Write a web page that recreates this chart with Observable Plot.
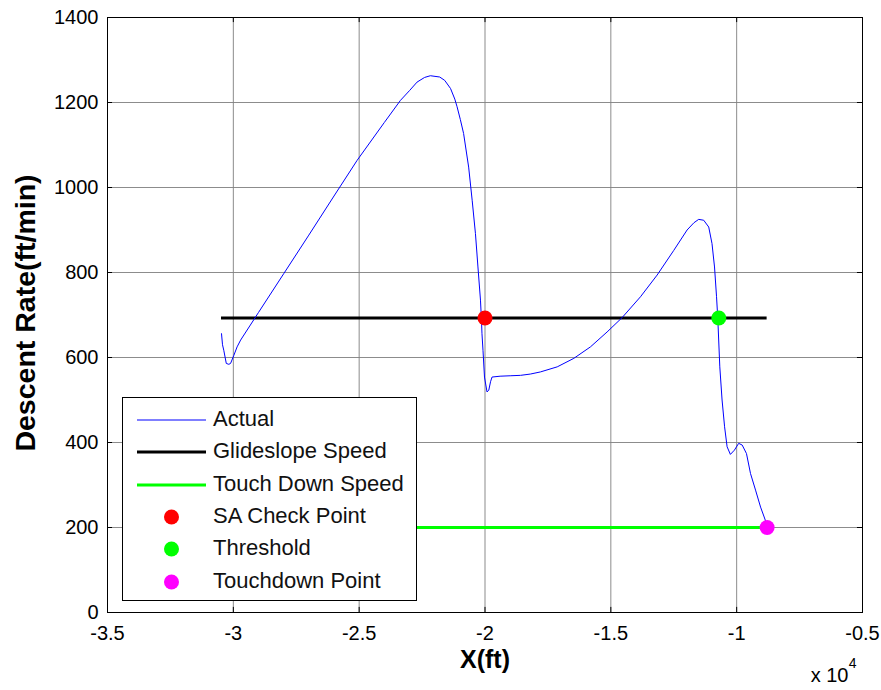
<!DOCTYPE html>
<html>
<head>
<meta charset="utf-8">
<script src="https://cdn.jsdelivr.net/npm/d3@7"></script>
<script src="https://cdn.jsdelivr.net/npm/@observablehq/plot@0.6"></script>
<style>
  html, body { margin: 0; padding: 0; background: #fff; }
  #wrap { position: relative; width: 881px; height: 690px; font-family: "Liberation Sans", Arial, sans-serif; }
  #legend { position: absolute; left: 122px; top: 397px; width: 293px; height: 202px; border: 1px solid #000; background: #fff; }
  .row { position: absolute; left: 0; height: 32px; width: 100%; font-size: 22px; color: #111; }
  .row span { position: absolute; left: 90px; top: 50%; transform: translateY(-52%); white-space: nowrap; }
  .sw { position: absolute; left: 14px; width: 69px; top: 50%; }
  .dot { position: absolute; left: 41px; top: 50%; width: 15px; height: 15px; border-radius: 50%; transform: translateY(-50%); }
</style>
</head>
<body>
<div id="wrap"><div id="chart"></div><div id="legend"></div></div>
<script>
// Actual descent rate trace, x in units of 1e4 ft
const actualX = [-3.047, -3.043, -3.038, -3.028, -3.018, -3.011, -2.998, -2.985, -2.971,
  -2.90, -2.80, -2.70, -2.60, -2.508, -2.40, -2.336, -2.300, -2.270, -2.240, -2.217,
  -2.180, -2.160, -2.137, -2.120, -2.111, -2.098, -2.085, -2.065, -2.051, -2.038,
  -2.028, -2.018, -2.014, -2.012, -2.008, -2.002, -1.992, -1.985, -1.978, -1.972,
  -1.940, -1.900, -1.859, -1.820, -1.780, -1.713, -1.647, -1.581, -1.515, -1.455,
  -1.382, -1.316, -1.250, -1.197, -1.170, -1.151, -1.131, -1.111, -1.098, -1.088,
  -1.080, -1.075, -1.067, -1.058, -1.048, -1.038, -1.025, -1.009, -0.992, -0.978,
  -0.961, -0.945, -0.925, -0.905, -0.886, -0.879];
const actualY = [656, 630, 617, 586, 584, 586, 605, 625, 641,
  706, 797, 888, 980, 1064, 1153, 1205, 1228, 1248, 1259, 1263,
  1260, 1252, 1233, 1208, 1190, 1160, 1127, 1048, 970, 892,
  813, 735, 688, 656, 617, 554, 519, 523, 543, 554,
  556, 557, 558, 561, 566, 578, 598, 625, 660, 694,
  743, 794, 852, 900, 917, 925, 923, 907, 868, 813,
  743, 692, 578, 500, 437, 390, 372, 382, 398, 394,
  374, 327, 288, 248, 217, 200];

const lineNames = ["Glideslope Speed", "Touch Down Speed"];
const lineValues = [693, 200];
const lineStart = [-3.047, -3.047];
const lineEnd = [-0.879, -0.879];
const lineColors = ["#000000", "#00ff00"];

const pointNames = ["SA Check Point", "Threshold", "Touchdown Point"];
const pointX = [-2.000, -1.071, -0.879];
const pointY = [693, 693, 200];
const pointColors = ["#ff0000", "#00ff00", "#ff00ff"];

const xTicks = [-3.5, -3, -2.5, -2, -1.5, -1, -0.5];
const yTicks = [0, 200, 400, 600, 800, 1000, 1200, 1400];

const actual = actualX.map((x, i) => ({x, y: actualY[i]}));
const refLines = lineNames.map((name, i) => ({name, y: lineValues[i], x1: lineStart[i], x2: lineEnd[i], color: lineColors[i]}));
const points = pointNames.map((name, i) => ({name, x: pointX[i], y: pointY[i], color: pointColors[i]}));

const font = '"Liberation Sans", Arial, sans-serif';
const yTickLen = 0.02;   // in x units (~5px)
const xTickLen = 12;     // in y units (~5px)

const chart = Plot.plot({
  width: 881,
  height: 690,
  marginLeft: 107,
  marginRight: 19,
  marginTop: 17,
  marginBottom: 78,
  style: {fontFamily: font, fontSize: "20px", color: "#000", background: "#fff"},
  x: {domain: [-3.5, -0.5], ticks: xTicks},
  y: {domain: [0, 1400], ticks: yTicks},
  marks: [
    Plot.gridX(xTicks, {stroke: "#808080", strokeOpacity: 0.9, strokeWidth: 1}),
    Plot.gridY(yTicks, {stroke: "#808080", strokeOpacity: 0.9, strokeWidth: 1}),
    Plot.ruleX(xTicks, {x: d => d, y1: 0, y2: xTickLen, stroke: "#000"}),
    Plot.ruleX(xTicks, {x: d => d, y1: 1400 - xTickLen, y2: 1400, stroke: "#000"}),
    Plot.ruleY(yTicks, {y: d => d, x1: -3.5, x2: -3.5 + yTickLen, stroke: "#000"}),
    Plot.ruleY(yTicks, {y: d => d, x1: -0.5 - yTickLen, x2: -0.5, stroke: "#000"}),
    Plot.axisX(xTicks, {tickSize: 0, tickPadding: 13, tickFormat: d => String(d), fontSize: 20, label: null}),
    Plot.axisY(yTicks, {tickSize: 0, tickPadding: 9, tickFormat: d => String(d), fontSize: 20, label: null}),
    Plot.frame({stroke: "#000", strokeWidth: 1}),
    Plot.ruleY(refLines, {y: "y", x1: "x1", x2: "x2", stroke: "color", strokeWidth: 3}),
    Plot.line(actual, {x: "x", y: "y", stroke: "#0000ff", strokeWidth: 1, curve: "linear"}),
    Plot.dot(points, {x: "x", y: "y", fill: "color", r: 7.5, stroke: null}),
    Plot.text(["Descent Rate(ft/min)"], {frameAnchor: "left", dx: -82, dy: -2, rotate: -90, fontSize: 28.5, fontWeight: "bold", textAnchor: "middle"}),
    Plot.text(["X(ft)"], {frameAnchor: "bottom", dy: 55, fontSize: 25, fontWeight: "bold", textAnchor: "middle"}),
    Plot.text(["x 10"], {frameAnchor: "bottom-right", dx: -14, dy: 69, fontSize: 20, textAnchor: "end"}),
    Plot.text(["4"], {frameAnchor: "bottom-right", dx: -6, dy: 55, fontSize: 14, textAnchor: "end"})
  ]
});
document.getElementById("chart").appendChild(chart);

// Legend
const legend = d3.select("#legend");
const rows = [
  {name: "Actual", type: "line", color: "#0000ff", w: 1},
  ...refLines.map(d => ({name: d.name, type: "line", color: d.color, w: 3})),
  ...points.map(d => ({name: d.name, type: "dot", color: d.color}))
];
rows.forEach((r, i) => {
  const row = legend.append("div").attr("class", "row").style("top", (6 + i * 32.3) + "px");
  if (r.type === "line") {
    row.append("div").attr("class", "sw").style("border-top", `${r.w}px solid ${r.color}`).style("transform", `translateY(-${r.w / 2}px)`);
  } else {
    row.append("div").attr("class", "dot").style("background", r.color);
  }
  row.append("span").text(r.name);
});
</script>
</body>
</html>
